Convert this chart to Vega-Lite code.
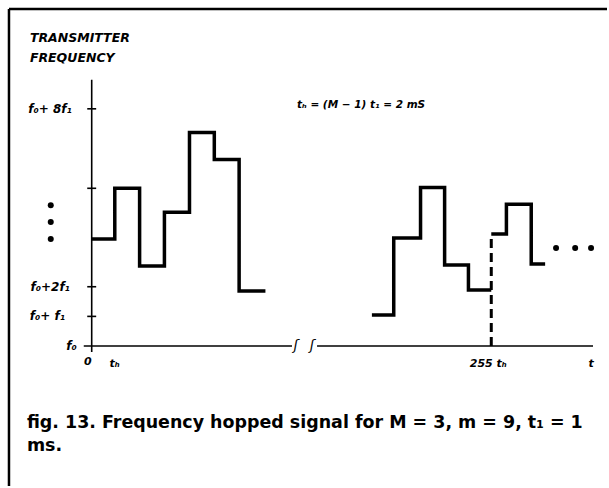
{
  "$schema": "https://vega.github.io/schema/vega-lite/v6.json",
  "autosize": {"type": "fit", "contains": "padding"},
  "width": 609,
  "height": 488,
  "padding": 0,
  "background": "white",
  "view": {"stroke": null},
  "config": {"text": {"color": "black"}},
  "datasets": {
    "steps": [
      {"seg": "a", "x": 0, "y": 3.61}, {"seg": "a", "x": 0.93, "y": 5.32}, {"seg": "a", "x": 1.93, "y": 2.70},
      {"seg": "a", "x": 2.93, "y": 4.51}, {"seg": "a", "x": 3.94, "y": 7.20}, {"seg": "a", "x": 4.94, "y": 6.29},
      {"seg": "a", "x": 5.94, "y": 1.86}, {"seg": "a", "x": 7.0, "y": 1.86},
      {"seg": "b", "x": 11.29, "y": 1.05}, {"seg": "b", "x": 12.17, "y": 3.64}, {"seg": "b", "x": 13.25, "y": 5.35},
      {"seg": "b", "x": 14.22, "y": 2.73}, {"seg": "b", "x": 15.18, "y": 1.89}, {"seg": "b", "x": 16.10, "y": 1.89},
      {"seg": "c", "x": 16.10, "y": 3.78}, {"seg": "c", "x": 16.71, "y": 4.78}, {"seg": "c", "x": 17.71, "y": 2.77},
      {"seg": "c", "x": 18.27, "y": 2.77}
    ],
    "dashed": [{"x": 16.10, "x2": 16.10, "y": 0, "y2": 3.78}],
    "axes": [
      {"x": 0, "x2": 0, "y": -0.2, "y2": 8.98},
      {"x": -0.32, "x2": 8.07, "y": 0, "y2": 0},
      {"x": 9.08, "x2": 20.2, "y": 0, "y2": 0},
      {"x": -0.18, "x2": 0.18, "y": 1, "y2": 1},
      {"x": -0.18, "x2": 0.18, "y": 2, "y2": 2},
      {"x": -0.18, "x2": 0.18, "y": 5.32, "y2": 5.32},
      {"x": -0.18, "x2": 0.18, "y": 8, "y2": 8}
    ],
    "frame": [
      {"x": -3.333, "x2": -3.333, "y": -4.72, "y2": 11.37},
      {"x": -3.333, "x2": 20.763, "y": 11.37, "y2": 11.37}
    ],
    "dots": [
      {"x": -1.65, "y": 4.75}, {"x": -1.65, "y": 4.18}, {"x": -1.65, "y": 3.61},
      {"x": 18.71, "y": 3.31}, {"x": 19.48, "y": 3.31}, {"x": 20.12, "y": 3.31}
    ],
    "titles": [
      {"x": -2.49, "y": 10.39, "label": "TRANSMITTER"},
      {"x": -2.49, "y": 9.72, "label": "FREQUENCY"}
    ],
    "ylabels": [
      {"x": -0.80, "y": 8, "label": "f₀+ 8f₁"},
      {"x": -0.88, "y": 2, "label": "f₀+2f₁"},
      {"x": -1.08, "y": 1, "label": "f₀+ f₁"},
      {"x": -0.60, "y": 0, "label": "f₀"}
    ],
    "xlabels": [
      {"x": -0.16, "y": -0.55, "label": "0"},
      {"x": 0.92, "y": -0.6, "label": "tₕ"},
      {"x": 15.98, "y": -0.6, "label": "255 tₕ"},
      {"x": 20.12, "y": -0.6, "label": "t"}
    ],
    "breaks": [
      {"x": 8.23, "y": 0, "label": "ʃ"},
      {"x": 8.88, "y": 0, "label": "ʃ"}
    ],
    "note": [{"x": 8.27, "y": 8.14, "label": "tₕ = (M − 1) t₁ = 2 mS"}],
    "caption": [
      {"x": -2.61, "y": -2.77, "label": "fig. 13. Frequency hopped signal for M = 3, m = 9, t₁  = 1"},
      {"x": -2.61, "y": -3.55, "label": "ms."}
    ]
  },
  "encoding": {
    "x": {"field": "x", "type": "quantitative", "scale": {"domain": [-3.695, 20.763], "nice": false, "zero": false}, "axis": null},
    "y": {"field": "y", "type": "quantitative", "scale": {"domain": [-4.72, 11.67], "nice": false, "zero": false}, "axis": null}
  },
  "layer": [
    {
      "data": {"name": "frame"},
      "mark": {"type": "rule", "color": "black", "strokeWidth": 2.5},
      "encoding": {"x2": {"field": "x2"}, "y2": {"field": "y2"}}
    },
    {
      "data": {"name": "axes"},
      "mark": {"type": "rule", "color": "black", "strokeWidth": 1.6},
      "encoding": {"x2": {"field": "x2"}, "y2": {"field": "y2"}}
    },
    {
      "data": {"name": "steps"},
      "mark": {"type": "line", "interpolate": "step-after", "color": "black", "strokeWidth": 3.5, "strokeJoin": "miter", "strokeCap": "butt"},
      "encoding": {"detail": {"field": "seg"}}
    },
    {
      "data": {"name": "dashed"},
      "mark": {"type": "rule", "color": "black", "strokeWidth": 3, "strokeDash": [9, 5]},
      "encoding": {"x2": {"field": "x2"}, "y2": {"field": "y2"}}
    },
    {
      "data": {"name": "dots"},
      "mark": {"type": "point", "filled": true, "color": "black", "opacity": 1, "size": 36}
    },
    {
      "data": {"name": "titles"},
      "mark": {"type": "text", "align": "left", "baseline": "middle", "font": "DejaVu Sans", "fontWeight": "bold", "fontStyle": "italic", "fontSize": 12.5},
      "encoding": {"text": {"field": "label"}}
    },
    {
      "data": {"name": "ylabels"},
      "mark": {"type": "text", "align": "right", "baseline": "middle", "font": "DejaVu Sans", "fontWeight": "bold", "fontStyle": "italic", "fontSize": 12},
      "encoding": {"text": {"field": "label"}}
    },
    {
      "data": {"name": "xlabels"},
      "mark": {"type": "text", "align": "center", "baseline": "middle", "font": "DejaVu Sans", "fontWeight": "bold", "fontStyle": "italic", "fontSize": 11},
      "encoding": {"text": {"field": "label"}}
    },
    {
      "data": {"name": "breaks"},
      "mark": {"type": "text", "align": "center", "baseline": "middle", "font": "DejaVu Sans", "fontStyle": "italic", "fontSize": 14},
      "encoding": {"text": {"field": "label"}}
    },
    {
      "data": {"name": "note"},
      "mark": {"type": "text", "align": "left", "baseline": "middle", "font": "DejaVu Sans", "fontWeight": "bold", "fontStyle": "italic", "fontSize": 10.5},
      "encoding": {"text": {"field": "label"}}
    },
    {
      "data": {"name": "caption"},
      "mark": {"type": "text", "align": "left", "baseline": "alphabetic", "font": "DejaVu Sans", "fontWeight": "bold", "fontSize": 17.45},
      "encoding": {"text": {"field": "label"}}
    }
  ]
}
